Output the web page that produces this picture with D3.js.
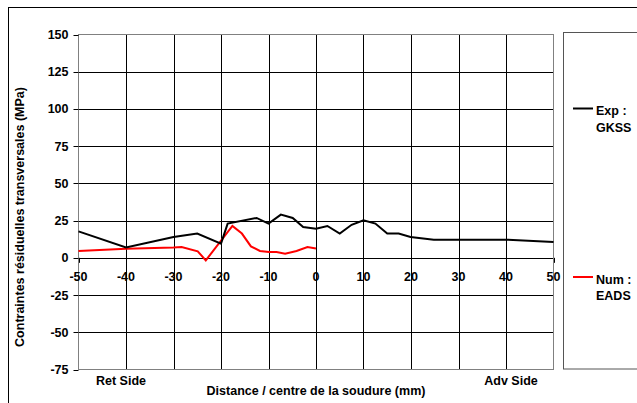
<!DOCTYPE html>
<html>
<head>
<meta charset="utf-8">
<script src="https://cdn.jsdelivr.net/npm/d3@7"></script>
<style>
  body { margin: 0; background: #fff; }
  svg text { font-family: "Liberation Sans", Arial, sans-serif; font-weight: bold; fill: #000; }
</style>
</head>
<body>
<svg id="chart" width="637" height="403"></svg>
<script>
// measured series, x = distance (mm), y = stress (MPa)
const expX = [-50, -40, -30, -25, -20, -18.6, -12.5, -10, -7.4, -4.9, -2.7, 0, 2.4, 5, 7.5, 10, 12.5, 15, 17.4, 19.9, 24.8, 30, 40, 50];
const expY = [17.8, 6.9, 14, 16.3, 9.5, 23, 26.8, 23, 29, 26.8, 20.7, 19.6, 21.4, 16.3, 22.2, 25.2, 23, 16.3, 16.3, 14, 12.2, 12.2, 12.2, 10.6];

const numX = [-50, -40, -30, -28.3, -24.9, -23.2, -17.6, -15.6, -13.7, -11.8, -9.9, -8.3, -6.5, -4.1, -1.8, 0];
const numY = [4.6, 6.1, 6.9, 7.3, 4.4, -1.7, 21.4, 16.3, 7.7, 4.6, 3.9, 3.9, 2.8, 4.6, 7.3, 6.2];

const xTicks = [-50, -40, -30, -20, -10, 0, 10, 20, 30, 40, 50];
const yTicks = [-75, -50, -25, 0, 25, 50, 75, 100, 125, 150];

const fs = 12.5;
const svg = d3.select("#chart");

// outer chart frame (runs past the picture on right/bottom)
svg.append("rect")
  .attr("x", 8.5).attr("y", 7.5)
  .attr("width", 660).attr("height", 420)
  .attr("fill", "none").attr("stroke", "#000");

const x = d3.scaleLinear().domain([-50, 50]).range([78.5, 553.5]);
const y = d3.scaleLinear().domain([-75, 150]).range([369.5, 34.5]);

const g = svg.append("g");

// grid
g.selectAll(".vgrid").data(xTicks.slice(1, -1)).join("line")
  .attr("x1", d => Math.round(x(d)) + 0.5).attr("x2", d => Math.round(x(d)) + 0.5)
  .attr("y1", y(150)).attr("y2", y(-75))
  .attr("stroke", "#000");
g.selectAll(".hgrid").data(yTicks.slice(1, -1)).join("line")
  .attr("x1", x(-50)).attr("x2", x(50))
  .attr("y1", d => Math.round(y(d)) + 0.5).attr("y2", d => Math.round(y(d)) + 0.5)
  .attr("stroke", "#000");

// plot frame
g.append("rect")
  .attr("x", x(-50)).attr("y", y(150))
  .attr("width", x(50) - x(-50)).attr("height", y(-75) - y(150))
  .attr("fill", "none").attr("stroke", "#808080");

// y axis ticks and labels
g.selectAll(".ytick").data(yTicks).join("line")
  .attr("x1", x(-50) - 5).attr("x2", x(-50))
  .attr("y1", d => Math.round(y(d)) + 0.5).attr("y2", d => Math.round(y(d)) + 0.5)
  .attr("stroke", "#000");
g.selectAll(".ylab").data(yTicks).join("text")
  .attr("x", 68.5).attr("y", d => y(d) + 4.5)
  .attr("text-anchor", "end").attr("font-size", fs)
  .text(d => d);

// x axis ticks at y=0 and labels
g.selectAll(".xtick").data(xTicks).join("line")
  .attr("x1", d => Math.round(x(d)) + 0.5).attr("x2", d => Math.round(x(d)) + 0.5)
  .attr("y1", y(0)).attr("y2", y(0) + 5)
  .attr("stroke", "#000");
g.selectAll(".xlab").data(xTicks).join("text")
  .attr("x", d => x(d)).attr("y", y(0) + 23.5)
  .attr("text-anchor", "middle").attr("font-size", fs)
  .text(d => d);

// series
const line = d3.line().x(d => x(d[0])).y(d => y(d[1]));
g.append("path")
  .datum(numX.map((v, i) => [v, numY[i]]))
  .attr("d", line).attr("fill", "none").attr("stroke", "#ff0000").attr("stroke-width", 2);
g.append("path")
  .datum(expX.map((v, i) => [v, expY[i]]))
  .attr("d", line).attr("fill", "none").attr("stroke", "#000").attr("stroke-width", 2);

// titles
svg.append("text")
  .attr("transform", "translate(24,217) rotate(-90)")
  .attr("text-anchor", "middle").attr("font-size", fs)
  .text("Contraintes résiduelles transversales (MPa)");
svg.append("text")
  .attr("x", 316).attr("y", 395)
  .attr("text-anchor", "middle").attr("font-size", fs)
  .text("Distance / centre de la soudure (mm)");
svg.append("text")
  .attr("x", 121).attr("y", 384.5)
  .attr("text-anchor", "middle").attr("font-size", fs)
  .text("Ret Side");
svg.append("text")
  .attr("x", 511).attr("y", 384.5)
  .attr("text-anchor", "middle").attr("font-size", fs)
  .text("Adv Side");

// legend
svg.append("rect")
  .attr("x", 563.5).attr("y", 32.5)
  .attr("width", 100).attr("height", 336.5)
  .attr("fill", "none").attr("stroke", "#555");

const legend = [
  { name: ["Exp :", "GKSS"], color: "#000", y: 108.5 },
  { name: ["Num :", "EADS"], color: "#ff0000", y: 277 }
];
legend.forEach(l => {
  svg.append("line")
    .attr("x1", 573).attr("x2", 593)
    .attr("y1", l.y).attr("y2", l.y)
    .attr("stroke", l.color).attr("stroke-width", 2);
  l.name.forEach((t, i) => {
    svg.append("text")
      .attr("x", 596).attr("y", l.y + 6.5 + i * 16.5)
      .attr("font-size", fs)
      .text(t);
  });
});
</script>
</body>
</html>
